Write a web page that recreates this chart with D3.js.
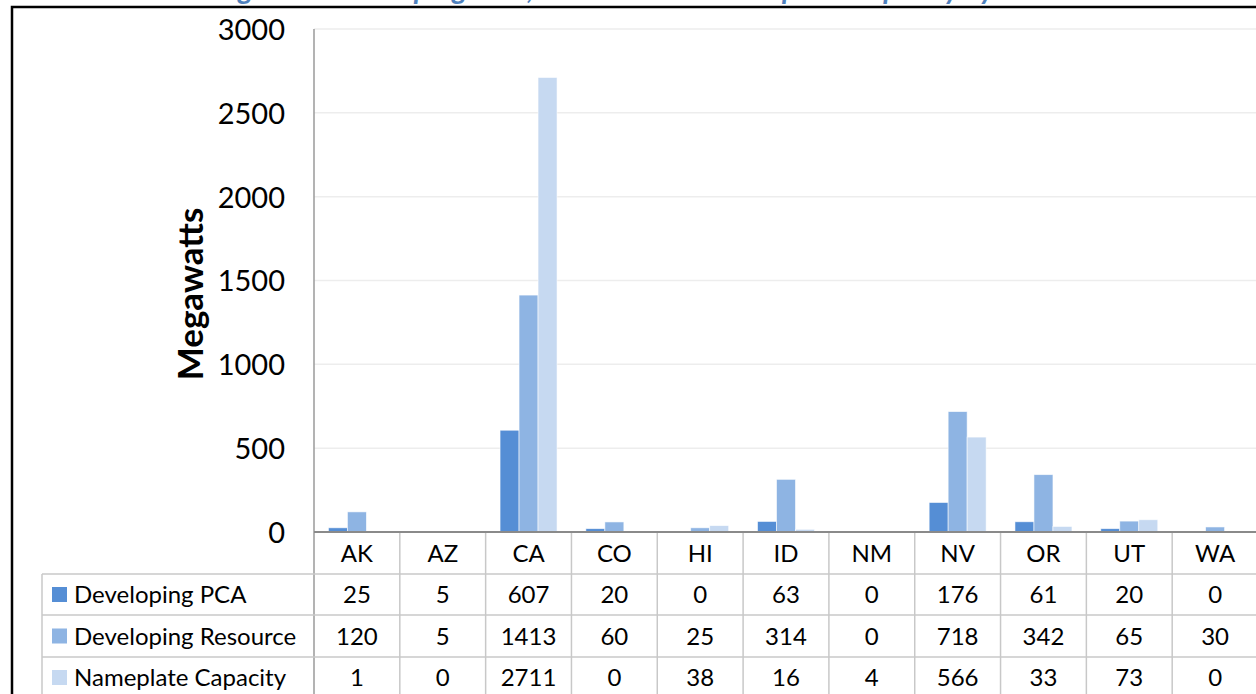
<!DOCTYPE html>
<html><head><meta charset="utf-8">
<script src="https://cdn.jsdelivr.net/npm/d3@7/dist/d3.min.js"></script>
<style>
html,body{margin:0;padding:0;background:#fff;overflow:hidden;}
svg{display:block;font-family:Lato,"Open Sans",sans-serif;}
</style></head><body>
<svg id="c" width="1256" height="694"></svg>
<script>
const states = ["AK","AZ","CA","CO","HI","ID","NM","NV","OR","UT","WA"];
const seriesNames = ["Developing PCA","Developing Resource","Nameplate Capacity"];
const developingPCA = [25,5,607,20,0,63,0,176,61,20,0];
const developingResource = [120,5,1413,60,25,314,0,718,342,65,30];
const nameplateCapacity = [1,0,2711,0,38,16,4,566,33,73,0];
const yTicks = [0,500,1000,1500,2000,2500,3000];
const titleText = "Figure 5: Developing PCA, Resource and Nameplate Capacity by State";
const yLabel = "Megawatts";
const colors = ["#558ED5","#8EB4E3","#C6D9F1"];

const series = [developingPCA, developingResource, nameplateCapacity];
const svg = d3.select("#c");

const plotLeft = 314, plotRight = 1258, plotTop = 29, plotBottom = 532;
const x = d3.scaleBand().domain(states).range([plotLeft, plotRight]).paddingInner(0).paddingOuter(0);
const bw = x.bandwidth();
const x1 = d3.scaleBand().domain(d3.range(3)).range([bw*0.168, bw*0.832]).padding(0);
const y = d3.scaleLinear().domain([0,3000]).range([plotBottom, plotTop]);

// title (cropped at top, as in the reference)
svg.append("text").attr("x",640).attr("y",-1).attr("text-anchor","middle")
  .attr("font-size",29).attr("font-style","italic").attr("font-weight","bold")
  .attr("fill","#4F81BD").text(titleText);

// gridlines
svg.append("g").selectAll("line").data(yTicks.filter(d=>d>0)).join("line")
  .attr("x1",plotLeft).attr("x2",plotRight)
  .attr("y1",d=>y(d)).attr("y2",d=>y(d))
  .attr("stroke","#EDEDED").attr("stroke-width",1.5);

// bars
const g = svg.append("g");
states.forEach((s,i)=>{
  series.forEach((arr,k)=>{
    const v = arr[i];
    if(v<=0) return;
    g.append("rect")
      .attr("x", x(s)+x1(k))
      .attr("width", x1.bandwidth())
      .attr("y", y(v))
      .attr("height", y(0)-y(v))
      .attr("fill", colors[k])
      .attr("stroke","#ffffff").attr("stroke-width",0.8).attr("stroke-opacity",0.7);
  });
});

// y axis
const yAxis = d3.axisLeft(y).tickValues(yTicks).tickFormat(d3.format("d")).tickSize(0).tickPadding(29);
const ya = svg.append("g").attr("transform",`translate(${plotLeft},0)`).call(yAxis);
ya.select(".domain").remove();
ya.selectAll("text").attr("font-size",29).attr("fill","#000").attr("font-family","Lato,sans-serif").attr("dy","0.36em");
svg.append("line").attr("x1",plotLeft).attr("x2",plotLeft).attr("y1",plotTop).attr("y2",694)
  .attr("stroke","#9A9A9A").attr("stroke-width",1.5);

// y label
svg.append("text").attr("transform",`translate(203,294) rotate(-90)`)
  .attr("text-anchor","middle").attr("font-size",35).attr("font-weight","bold").attr("fill","#000").text(yLabel);

// data table
const rowTop = [plotBottom, 574, 615, 657, 698];
const tableLeft = 42;
const tg = svg.append("g");
[574,615,657].forEach(yy=>{
  tg.append("line").attr("x1",tableLeft).attr("x2",plotRight).attr("y1",yy).attr("y2",yy)
    .attr("stroke","#C8C8C8").attr("stroke-width",1.5);
});
states.forEach(s=>{
  tg.append("line").attr("x1",x(s)+bw).attr("x2",x(s)+bw).attr("y1",plotBottom).attr("y2",694)
    .attr("stroke","#C8C8C8").attr("stroke-width",1.5);
});
tg.append("line").attr("x1",tableLeft).attr("x2",tableLeft).attr("y1",574).attr("y2",694)
  .attr("stroke","#C8C8C8").attr("stroke-width",1.5);

// x axis line
svg.append("line").attr("x1",plotLeft).attr("x2",plotRight).attr("y1",plotBottom).attr("y2",plotBottom)
  .attr("stroke","#8A8A8A").attr("stroke-width",2);

// header
const xa = d3.axisBottom(x).tickSize(0).tickPadding(0);
const xg = svg.append("g").attr("transform",`translate(0,${(rowTop[0]+rowTop[1])/2})`).call(xa);
xg.select(".domain").remove();
xg.selectAll("text").attr("font-size",24).attr("fill","#000").attr("font-family","Lato,sans-serif").attr("dy","0.36em");

// rows
series.forEach((arr,k)=>{
  const cy = (rowTop[k+1]+rowTop[k+2])/2;
  tg.append("rect").attr("x",52).attr("y",cy-7.5).attr("width",15).attr("height",15).attr("fill",colors[k]);
  tg.append("text").attr("x",74).attr("y",cy).attr("dy","0.36em").attr("font-size",24).attr("fill","#000").text(seriesNames[k]);
  tg.selectAll(null).data(arr).join("text")
    .attr("x",(d,i)=>x(states[i])+bw/2).attr("y",cy).attr("dy","0.36em")
    .attr("text-anchor","middle").attr("font-size",24).attr("fill","#000").text(d=>d);
});

// outer border
svg.append("path").attr("d","M12,700 L12,7 L1260,7").attr("fill","none").attr("stroke","#000").attr("stroke-width",2.5);
</script>
</body></html>
